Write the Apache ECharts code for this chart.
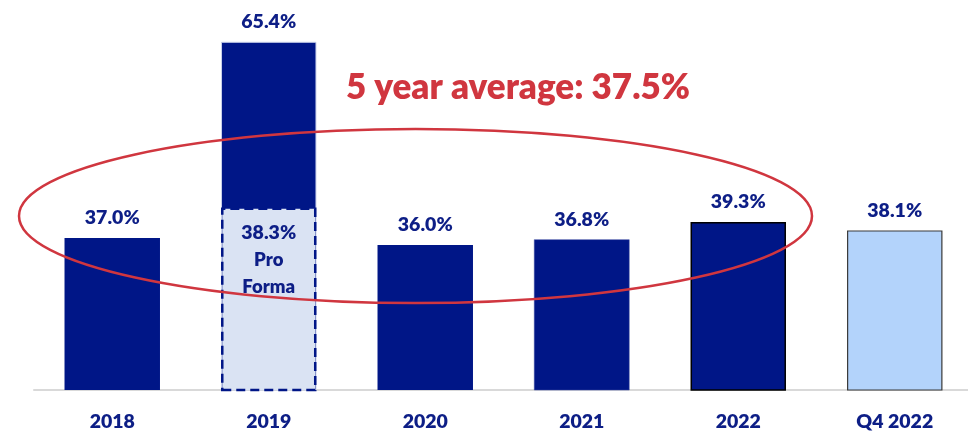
<!DOCTYPE html>
<html>
<head>
<meta charset="utf-8">
<script src="https://cdn.jsdelivr.net/npm/echarts@6/dist/echarts.min.js"></script>
<style>
html,body{margin:0;padding:0;background:#fff;}
#chart{width:968px;height:433px;}
</style>
</head>
<body>
<div id="chart"></div>
<script>
var categories = ['2018', '2019', '2020', '2021', '2022', 'Q4 2022'];
var values = [37.0, 65.4, 36.0, 36.8, 39.3, 38.1];
var proFormaBox = [null, 41.4, null, null, null, null];
var proFormaValue = 38.3;
var averageText = '5 year average: 37.5%';

var NAVY = '#001687';
var TEXT = '#0d1e86';
var FONT = 'Lato, "Open Sans", sans-serif';
var W = 800;

var itemStyles = [
  {color: NAVY},
  {color: NAVY, borderColor: '#c9d1ea', borderWidth: 1},
  {color: NAVY},
  {color: NAVY, borderColor: '#3a4aa0', borderWidth: 0.5},
  {color: NAVY, borderColor: '#000000', borderWidth: 1.5},
  {color: '#b3d3fb', borderColor: '#3a3a3a', borderWidth: 1.2}
];

var chart = echarts.init(document.getElementById('chart'));
chart.setOption({
  animation: false,
  grid: {left: 34, width: 939, top: 10, bottom: 43, outerBoundsMode: 'none', containLabel: false},
  xAxis: {
    type: 'category',
    data: categories,
    axisLine: {lineStyle: {color: '#d9d9d9', width: 2}},
    axisTick: {show: false},
    axisLabel: {color: TEXT, fontFamily: FONT, fontWeight: W, fontSize: 19.5, margin: 22}
  },
  yAxis: {
    type: 'value', min: 15, max: 70,
    show: false,
    splitLine: {show: false}
  },
  series: [
    {
      type: 'bar',
      barWidth: '61%',
      data: values.map(function (v, i) { return {value: v, itemStyle: itemStyles[i]}; }),
      label: {
        show: true, position: 'top', distance: 10,
        color: TEXT, fontFamily: FONT, fontWeight: W, fontSize: 19.5,
        formatter: function (p) { return p.value.toFixed(1) + '%'; }
      },
      z: 2
    },
    {
      type: 'bar',
      barWidth: '61%',
      barGap: '-100%',
      data: proFormaBox,
      itemStyle: {color: '#dae3f3', borderColor: NAVY, borderWidth: 2.5, borderType: [9, 5]},
      label: {
        show: true, position: 'insideTop', distance: 12,
        formatter: function () { return '{a|' + proFormaValue.toFixed(1) + '%}\n{b|Pro}\n{b|Forma}'; },
        rich: {
          a: {color: TEXT, fontFamily: FONT, fontWeight: W, fontSize: 19.5, lineHeight: 27},
          b: {color: TEXT, fontFamily: FONT, fontWeight: W, fontSize: 18.5, lineHeight: 27}
        }
      },
      z: 3
    }
  ],
  graphic: [
    {
      type: 'ellipse', z: 100,
      shape: {cx: 415.5, cy: 216, rx: 396.5, ry: 87},
      style: {fill: null, stroke: '#d0363f', lineWidth: 2.5}
    },
    {
      type: 'text', z: 100,
      x: 518, y: 88,
      style: {
        text: averageText, fill: '#d0363f',
        font: W + ' 35px ' + FONT,
        textAlign: 'center', textVerticalAlign: 'middle'
      }
    }
  ]
});
</script>
</body>
</html>
